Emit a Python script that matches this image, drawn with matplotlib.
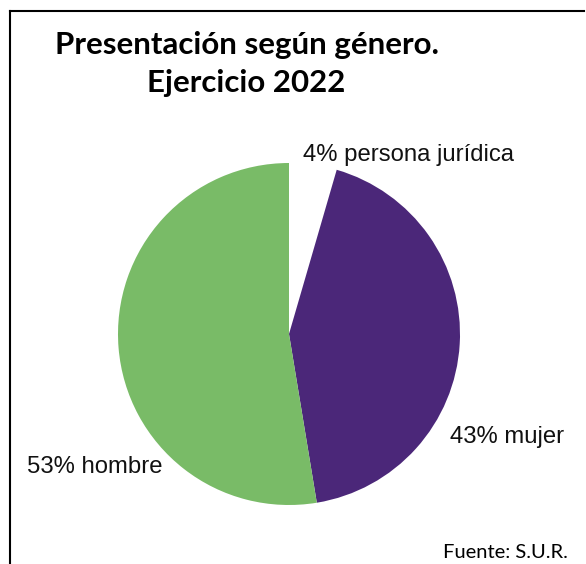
import matplotlib
matplotlib.use("Agg")
import matplotlib.pyplot as plt
from matplotlib.lines import Line2D

# data
categories = ["persona jurídica", "mujer", "hombre"]
shares = [4.5, 42.9, 52.6]
pct_labels = ["4%", "43%", "53%"]
colors = ["#ffffff", "#4b2779", "#79bb67"]

W, H = 586, 564
fig = plt.figure(figsize=(W / 100, H / 100), dpi=100)

# pie axes: centre (289, 334) px, radius 171 px
cx, cy, r = 289, 334, 171
ax = fig.add_axes([(cx - r) / W, (H - cy - r) / H, 2 * r / W, 2 * r / H])
ax.pie(shares, colors=colors, startangle=90, counterclock=False, radius=1)
ax.set_xlim(-1, 1)
ax.set_ylim(-1, 1)
ax.axis("off")

# slice labels (left edge, vertical centre) in data units
label_pos = [(0.082, 1.047), (0.94, -0.60), (-1.53, -0.78)]
for (x, y), p, c in zip(label_pos, pct_labels, categories):
    ax.text(x, y, f"{p} {c}", ha="left", va="center", fontsize=17.2,
            family="Liberation Sans", color="#111111", clip_on=False)

# title
fig.text(247 / W, 1 - 45 / H, "Presentación según género.", ha="center", va="center",
         fontsize=22.5, fontweight="bold", family="Lato")
fig.text(246 / W, 1 - 83 / H, "Ejercicio 2022", ha="center", va="center",
         fontsize=22.5, fontweight="bold", family="Lato")

# source
fig.text(568 / W, 1 - 553 / H, "Fuente: S.U.R.", ha="right", va="center",
         fontsize=14.5, family="Lato")

# border (top and left only)
fig.add_artist(Line2D([10 / W, 584 / W], [1 - 11 / H, 1 - 11 / H], color="black", lw=1.5))
fig.add_artist(Line2D([10 / W, 10 / W], [0, 1 - 11 / H], color="black", lw=1.5))

fig.savefig("out.png", dpi=100)
